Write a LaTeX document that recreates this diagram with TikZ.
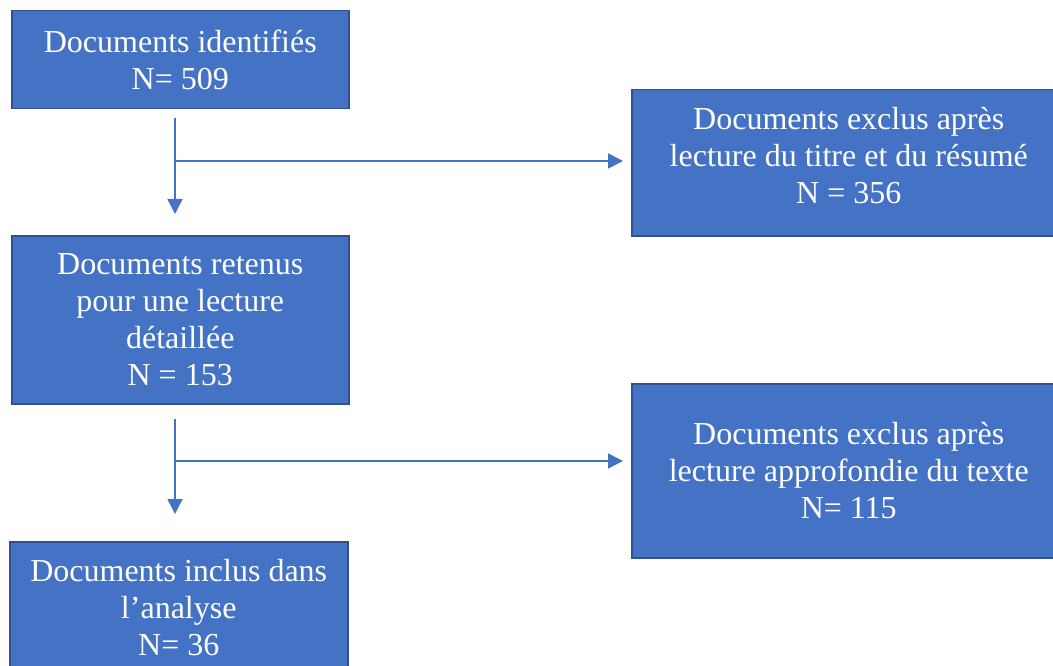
\documentclass[tikz,border=0pt]{standalone}
\usepackage{fontspec}
\setmainfont{Liberation Serif}
\usetikzlibrary{arrows.meta}
\definecolor{boxfill}{HTML}{4472C4}
\definecolor{boxedge}{HTML}{2F528F}
\begin{document}
\begin{tikzpicture}[x=1pt,y=-1pt,
  box/.style={draw=boxedge, line width=1.5pt, fill=boxfill, text=white, align=center,
    font=\fontsize{32}{37}\selectfont, inner sep=0pt, anchor=north west},
  boxtext/.style={text=white, align=center, font=\fontsize{32}{37}\selectfont, inner sep=0pt},
  flow/.style={draw=boxfill, line width=1.5pt, -{Triangle[length=15pt,width=15pt]}}]
\clip (0,0) rectangle (1053,666);
\fill[white] (0,0) rectangle (1053,666);

\node[box, minimum width=337pt, minimum height=98pt] (b1) at (11,10)
  {Documents identifiés\\N= 509};
\node[box, minimum width=434pt, minimum height=146pt] (b2) at (631,89) {};
\node[boxtext] (t2) at ([yshift=7.5pt]b2.center)
  {Documents exclus après\\lecture du titre et du résumé\\N = 356};
\node[box, minimum width=337pt, minimum height=168pt] (b3) at (11,235)
  {Documents retenus\\pour une lecture\\détaillée\\N = 153};
\node[box, minimum width=434pt, minimum height=174pt] (b4) at (631,383)
  {Documents exclus après\\lecture approfondie du texte\\N= 115};
\node[box, minimum width=338pt, minimum height=132pt] (b5) at (9,541)
  {Documents inclus dans\\l’analyse\\N= 36};

\coordinate (a1s) at (175,118);
\coordinate (a1m) at (175,161);
\coordinate (a1e) at (175,214);
\draw[flow] (a1s) -- (a1e);
\draw[flow, shorten >=8pt] (a1m) -- (a1m -| b2.west);

\coordinate (a2s) at (175,419);
\coordinate (a2m) at (175,461);
\coordinate (a2e) at (175,514);
\draw[flow] (a2s) -- (a2e);
\draw[flow, shorten >=8pt] (a2m) -- (a2m -| b4.west);
\end{tikzpicture}
\end{document}
